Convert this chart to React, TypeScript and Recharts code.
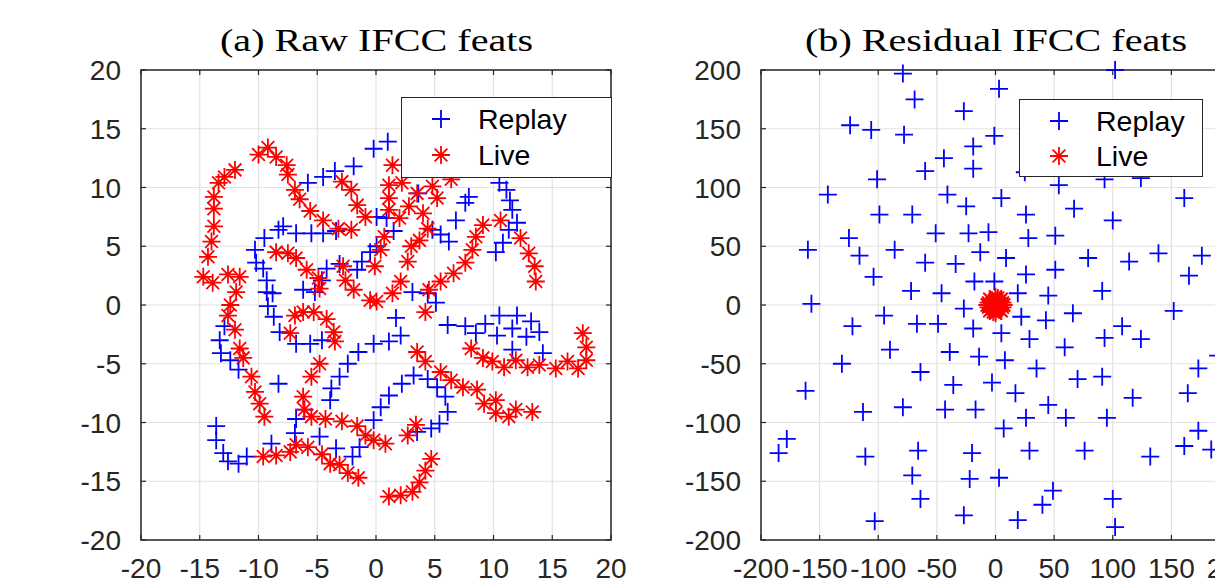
import { ScatterChart, Scatter, XAxis, YAxis, CartesianGrid, Legend, ReferenceArea } from "recharts";

// tick labels
const rawTicks = [-20, -15, -10, -5, 0, 5, 10, 15, 20];
const resTicks = [-200, -150, -100, -50, 0, 50, 100, 150, 200];

// (a) Raw IFCC feats
const rawReplay: [number, number][] = [
  [-0.2, 13.3], [1.0, 13.9], [-1.9, 11.8], [-3.5, 11.4], [-4.5, 10.9], [-5.8, 10.4],
  [3.6, 9.5], [0.9, 7.4], [1.5, 6.3], [0.05, 7.5],
  [7.9, 9.2], [7.6, 8.7], [10.5, 10.4], [11.1, 9.8], [11.4, 8.9], [11.6, 8.1], [12.0, 7.0],
  [11.3, 6.4], [10.8, 5.3], [10.2, 4.5],
  [6.8, 7.2], [6.2, 5.4], [5.5, 6.0], [4.8, 6.4],
  [-7.9, 6.7], [-8.3, 6.4], [-6.8, 6.1], [-5.5, 6.1], [-4.5, 6.1], [-3.4, 6.3],
  [-9.5, 5.7], [-10.3, 4.7], [-10.2, 3.6], [-9.6, 3.1], [-9.3, 2.1], [-9.3, 1.1], [-8.8, 1.0],
  [-9.2, -0.1], [-8.7, -1.0], [-8.2, -2.3], [-6.8, -3.3], [-5.6, -3.3], [-4.6, -3.0],
  [-6.2, 1.3], [-5.2, 1.1], [-4.6, 2.1], [-4.2, 3.1], [-3.1, 3.5], [-1.6, 3.0], [-1.2, 3.7],
  [-0.5, 4.5], [0.05, 5.0],
  [3.1, 1.1], [4.4, 1.0], [5.1, 0.2], [6.1, -1.7], [7.6, -1.8], [8.5, -2.4], [9.3, -1.6],
  [10.5, -0.9], [12.0, -0.9], [13.2, -1.4], [13.9, -2.3], [12.8, -2.7], [11.6, -2.0],
  [10.3, -2.6], [11.6, -3.8], [14.2, -4.1],
  [1.7, -1.1], [2.1, -2.6], [1.1, -3.1], [-0.2, -3.3], [-1.5, -4.0],
  [3.2, -6.0], [2.2, -6.7], [1.1, -7.7], [0.4, -8.7], [-0.2, -9.8], [4.4, -6.3], [5.2, -7.0],
  [5.9, -7.8], [6.1, -9.1], [5.4, -10.1], [4.7, -10.5], [3.5, -10.8],
  [-13.3, -3.0], [-12.9, -1.8], [-13.2, -4.1], [-12.4, -4.7], [-11.7, -5.5], [-8.3, -6.7],
  [-2.4, -5.0], [-3.1, -6.1], [-3.8, -7.1], [-3.9, -8.1],
  [-6.1, -8.9], [-6.8, -9.7], [-6.9, -10.9], [-4.8, -11.2], [-3.4, -12.2], [-2.0, -12.9],
  [-1.4, -12.1],
  [-13.6, -10.3], [-13.6, -11.5], [-13.0, -12.6], [-12.6, -13.3], [-11.7, -13.5], [-11.0, -12.9],
  [-8.9, -11.8],
];

const rawLive: [number, number][] = [
  [-12.0, 11.5], [-12.9, 10.9], [-13.4, 10.4], [-13.8, 9.2], [-13.8, 8.2], [-13.8, 6.7],
  [-14.0, 5.4], [-14.3, 4.1], [-14.7, 2.4], [-13.9, 1.9], [-12.6, 2.6], [-11.6, 2.4],
  [-11.9, 1.1], [-12.4, 0.0], [-12.6, -0.9], [-12.0, -2.1], [-11.6, -3.7], [-11.3, -4.5],
  [-10.6, -6.1], [-10.3, -7.4], [-9.9, -8.4], [-9.5, -9.5],
  [-10.0, 12.8], [-9.2, 13.4], [-8.5, 12.6], [-7.6, 11.9], [-7.5, 11.1], [-6.9, 9.8],
  [-6.5, 9.0], [-5.6, 8.0], [-4.5, 7.2], [-3.2, 6.5], [-2.1, 6.4], [-2.9, 10.5], [-2.1, 9.8],
  [-1.6, 8.5], [-0.9, 7.5],
  [-8.5, 4.5], [-7.5, 4.4], [-6.8, 4.0], [-5.9, 3.0], [-4.9, 2.3], [-4.8, 1.4], [-2.8, 3.3],
  [-2.6, 2.1], [-1.9, 1.3], [-0.5, 0.4], [0.05, 0.3], [-0.1, 3.3],
  [-6.9, -0.9], [-6.2, -0.6], [-5.3, -0.6], [-4.2, -1.2], [-7.3, -2.4], [-3.6, -2.3], [-3.5, -3.1],
  [-4.8, -5.0], [-5.5, -6.1], [-6.2, -7.8], [-6.1, -8.9], [-5.5, -9.5], [-4.3, -9.7],
  [-2.9, -9.9], [-1.6, -10.3], [-0.9, -11.1], [-0.2, -11.5], [0.8, -11.8], [2.7, -11.1], [3.4, -10.2],
  [-9.6, -12.9], [-8.5, -12.8], [-7.3, -12.5], [-6.8, -11.9], [-5.8, -12.1], [-4.6, -12.7],
  [-3.9, -13.5], [-3.1, -13.6], [-2.4, -14.3], [-1.5, -14.7],
  [4.7, -13.1], [4.2, -14.1], [3.7, -15.1], [3.1, -15.9], [2.1, -16.2], [1.1, -16.3],
  [1.4, 11.9], [1.1, 10.2], [2.2, 10.4], [1.1, 9.1], [1.1, 8.1], [2.0, 7.4], [2.8, 8.4],
  [3.5, 9.5], [4.8, 10.1], [5.2, 9.1], [4.0, 7.8], [4.4, 6.5], [3.7, 5.5], [3.0, 5.0],
  [2.7, 3.7], [0.7, 5.8], [0.4, 4.7], [6.4, 10.7],
  [2.1, 2.0], [1.4, 1.0], [4.5, 1.3], [5.5, 2.0], [6.6, 2.7], [7.6, 3.6], [8.2, 4.7],
  [8.5, 5.8], [9.1, 6.8], [10.6, 7.2], [12.3, 5.7], [13.0, 4.4], [13.5, 3.3], [13.6, 2.0],
  [4.2, -0.6],
  [3.5, -4.0], [4.2, -4.8], [5.5, -5.7], [6.4, -6.4], [7.4, -7.0], [8.6, -7.2], [9.2, -8.4],
  [10.2, -8.1], [10.2, -9.2], [11.3, -9.5], [11.9, -8.9], [13.3, -9.1],
  [8.1, -3.7], [9.1, -4.5], [9.9, -4.8], [10.9, -5.3], [11.9, -4.7], [12.9, -5.3], [13.9, -5.1],
  [15.3, -5.4], [16.3, -4.8], [17.2, -5.4], [17.9, -4.7], [17.9, -3.6], [17.6, -2.4],
];

// (b) Residual IFCC feats
const resReplay: [number, number][] = [
  [-79, 197], [-69, 175], [-27, 165], [-124, 153], [-106, 149], [-78, 145], [-19, 135],
  [-44, 125], [-60, 114], [-19, 116], [-101, 107], [-143, 94], [-41, 94], [-25, 84],
  [-99, 77], [-71, 77], [-51, 61], [-23, 61], [-125, 57], [-160, 47], [-86, 47], [-116, 42],
  [-60, 36], [-34, 35], [-104, 24], [-18, 20], [-72, 12], [-46, 10], [-157, 1],
  [102, 200], [3, 184], [-1, 144], [25, 113], [54, 102], [93, 107], [124, 108], [161, 91],
  [5, 91], [26, 77], [67, 82], [100, 72], [-6, 62], [28, 57], [51, 59], [-13, 45], [9, 40],
  [79, 40], [114, 37], [139, 44], [176, 42], [165, 25], [26, 26], [51, 30], [-1, 20],
  [19, 10], [45, 8], [91, 12],
  [-27, -3], [-95, -9], [-122, -18], [-67, -16], [-49, -16], [-19, -20], [-90, -38],
  [-39, -40], [-14, -44], [-131, -50], [-64, -57], [-36, -68], [-162, -73], [-113, -91],
  [-79, -87], [-43, -89], [-17, -89], [-178, -114], [-185, -126], [-111, -129], [-66, -124],
  [-20, -126], [-71, -145], [-22, -148], [-64, -165], [-27, -179], [-103, -184],
  [152, -5], [22, -10], [43, -13], [66, -7], [5, -24], [29, -29], [59, -36], [93, -28],
  [108, -18], [124, -29], [8, -47], [35, -54], [70, -63], [91, -61], [-3, -66], [17, -75],
  [45, -85], [26, -96], [60, -96], [95, -96], [117, -79], [164, -75], [173, -54], [7, -105],
  [173, -107], [161, -120], [184, -123], [29, -124], [76, -124], [132, -129], [3, -147],
  [49, -158], [40, -170], [19, -183], [100, -165], [102, -189], [190, -43],
];

const resLive: [number, number][] = [
  [0, 0], [3, 2], [-3, 2], [2, -3], [-2, -3], [5, 0], [-5, 0], [0, 5], [0, -5],
  [4, 4], [-4, 4], [4, -4], [-4, -4], [6, 2], [-6, -2], [2, 6], [-2, -6], [6, -2],
  [-6, 2], [1, 3], [-1, -2], [3, -1], [-3, 1], [7, 0], [-7, 0], [0, 7], [0, -7],
  [5, 5], [-5, -5], [5, -5], [-5, 5], [2, 1], [-2, 2], [1, -1],
];

const AX = "#262626";
const GRID = "#e2e2e2";
const BLUE = "#0000ff";
const RED = "#ff0000";
const SANS = "'Liberation Sans', Arial, Helvetica, sans-serif";

const toPts = (arr: [number, number][]) => arr.map(([x, y]) => ({ x, y }));

function plusPath(cx: number, cy: number, r: number) {
  return `M${cx - r},${cy}H${cx + r}M${cx},${cy - r}V${cy + r}`;
}
function starPath(cx: number, cy: number, r: number) {
  const d = r * 0.7071;
  return (
    plusPath(cx, cy, r) +
    `M${cx - d},${cy - d}L${cx + d},${cy + d}M${cx - d},${cy + d}L${cx + d},${cy - d}`
  );
}

function PlusShape(props: any) {
  const { cx, cy } = props;
  if (cx == null || cy == null) return null;
  return <path d={plusPath(cx, cy, 9)} stroke={BLUE} strokeWidth={1.8} fill="none" />;
}
function StarShape(props: any) {
  const { cx, cy } = props;
  if (cx == null || cy == null) return null;
  return <path d={starPath(cx, cy, 9)} stroke={RED} strokeWidth={1.8} fill="none" />;
}

// ticks point inwards on all four sides, like the original figure
const makeXTick = (plotH: number) => (props: any) => {
  const { x, y, payload } = props;
  return (
    <g>
      <line x1={x} y1={y} x2={x} y2={y - 5} stroke={AX} strokeWidth={1.2} />
      <line x1={x} y1={y - plotH} x2={x} y2={y - plotH + 5} stroke={AX} strokeWidth={1.2} />
      <text x={x} y={y + 38} textAnchor="middle" fontSize={28} fill={AX} fontFamily={SANS}>
        {payload.value}
      </text>
    </g>
  );
};

const makeYTick = (plotW: number) => (props: any) => {
  const { x, y, payload } = props;
  return (
    <g>
      <line x1={x} y1={y} x2={x + 5} y2={y} stroke={AX} strokeWidth={1.2} />
      <line x1={x + plotW} y1={y} x2={x + plotW - 5} y2={y} stroke={AX} strokeWidth={1.2} />
      <text x={x - 20} y={y + 10} textAnchor="end" fontSize={28} fill={AX} fontFamily={SANS}>
        {payload.value}
      </text>
    </g>
  );
};

function LegendBox({ width, height, rows }: { width: number; height: number; rows: number[] }) {
  return (
    <div style={{ width, height, boxSizing: "border-box", border: `1.5px solid ${AX}`, background: "#fff" }}>
      <svg width={width - 3} height={height - 3} style={{ display: "block" }}>
        <path d={plusPath(39, rows[0], 9)} stroke={BLUE} strokeWidth={1.8} fill="none" />
        <text x={76} y={rows[0] + 10} fontSize={28.5} fontFamily={SANS} fill="#000">Replay</text>
        <path d={starPath(39, rows[1], 9)} stroke={RED} strokeWidth={1.8} fill="none" />
        <text x={76} y={rows[1] + 10} fontSize={28.5} fontFamily={SANS} fill="#000">Live</text>
      </svg>
    </div>
  );
}

function Panel(props: {
  left: number;
  width: number;
  plot: { top: number; left: number; w: number; h: number };
  ticks: number[];
  replay: [number, number][];
  live: [number, number][];
  legend: { left: number; top: number; width: number; height: number; rows: number[] };
}) {
  const { left, width, plot, ticks, replay, live, legend } = props;
  const height = 585;
  const bottomH = height - plot.top - plot.h;
  const lo = ticks[0];
  const hi = ticks[ticks.length - 1];
  return (
    <div style={{ position: "absolute", left, top: 0 }}>
      <ScatterChart
        width={width}
        height={height}
        margin={{ top: plot.top, left: 0, bottom: 0, right: width - plot.left - plot.w }}
      >
        <CartesianGrid stroke={GRID} strokeWidth={1.2} />
        <XAxis
          type="number"
          dataKey="x"
          domain={[lo, hi]}
          ticks={ticks}
          interval={0}
          height={bottomH}
          tickSize={0}
          tickMargin={0}
          tickLine={false}
          axisLine={false}
          tick={makeXTick(plot.h)}
        />
        <YAxis
          type="number"
          dataKey="y"
          domain={[lo, hi]}
          ticks={ticks}
          interval={0}
          width={plot.left}
          tickSize={0}
          tickMargin={0}
          tickLine={false}
          axisLine={false}
          tick={makeYTick(plot.w)}
        />
        <ReferenceArea x1={lo} x2={hi} y1={lo} y2={hi} fill="none" stroke={AX} strokeWidth={1.5} fillOpacity={0} />
        <Scatter name="Replay" data={toPts(replay)} shape={PlusShape} isAnimationActive={false} />
        <Scatter name="Live" data={toPts(live)} shape={StarShape} isAnimationActive={false} />
        <Legend
          layout="vertical"
          align="center"
          verticalAlign="middle"
          wrapperStyle={{ left: legend.left, top: legend.top, width: legend.width, height: legend.height }}
          content={() => <LegendBox width={legend.width} height={legend.height} rows={legend.rows} />}
        />
      </ScatterChart>
    </div>
  );
}

export default function App() {
  return (
    <div
      style={{
        position: "fixed",
        left: 0,
        top: 0,
        width: 1215,
        height: 585,
        overflow: "hidden",
        background: "#fff",
      }}
    >
      <Panel
        left={0}
        width={680}
        plot={{ top: 70, left: 141, w: 470, h: 470 }}
        ticks={rawTicks}
        replay={rawReplay}
        live={rawLive}
        legend={{ left: 401, top: 97, width: 211, height: 81, rows: [21, 57] }}
      />
      <Panel
        left={680}
        width={600}
        plot={{ top: 70, left: 81, w: 469, h: 470 }}
        ticks={resTicks}
        replay={resReplay}
        live={resLive}
        legend={{ left: 339, top: 99, width: 184, height: 78, rows: [21, 56] }}
      />
      <svg
        width={1215}
        height={70}
        style={{ position: "absolute", left: 0, top: 0, pointerEvents: "none" }}
      >
        <text x={220} y={51} fontSize={31} fontFamily="'Liberation Serif', 'Times New Roman', serif" fill="#000" textLength={313} lengthAdjust="spacingAndGlyphs">
          (a) Raw IFCC feats
        </text>
        <text x={805} y={51} fontSize={31} fontFamily="'Liberation Serif', 'Times New Roman', serif" fill="#000" textLength={382} lengthAdjust="spacingAndGlyphs">
          (b) Residual IFCC feats
        </text>
      </svg>
    </div>
  );
}
